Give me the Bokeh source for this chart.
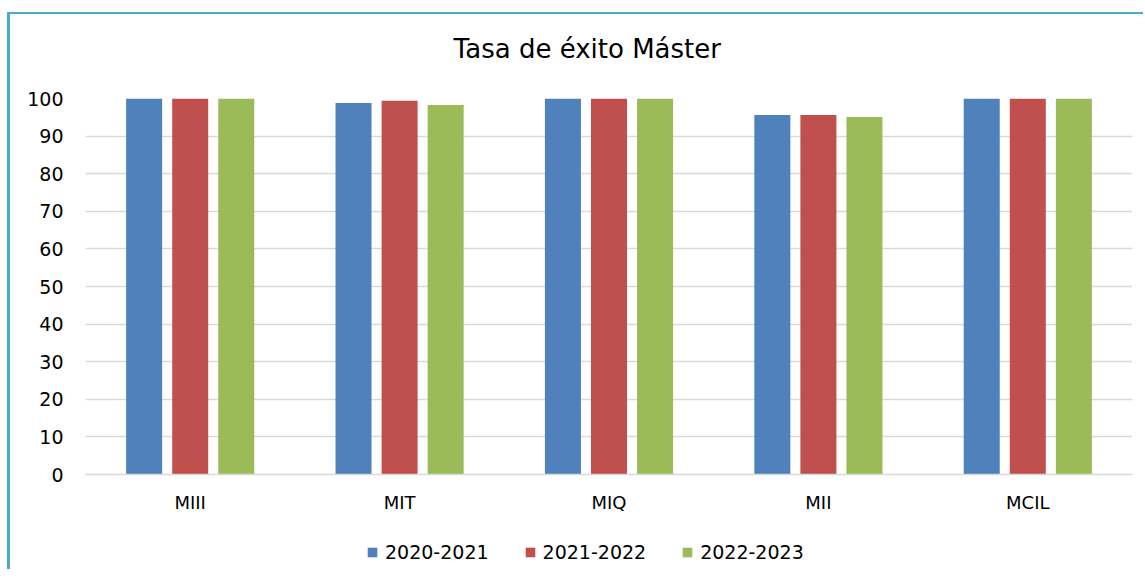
from bokeh.plotting import figure
from bokeh.models import ColumnDataSource, Range1d, FixedTicker, Legend, LegendItem, Label
from bokeh.layouts import column
from bokeh.transform import dodge
from bokeh.embed import file_html
from bokeh.resources import INLINE

title_text = "Tasa de éxito Máster"
categories = ["MIII", "MIT", "MIQ", "MII", "MCIL"]
series_names = ["2020-2021", "2021-2022", "2022-2023"]
s2020 = [100, 98.8, 100, 95.6, 100]
s2021 = [100, 99.4, 100, 95.6, 100]
s2022 = [100, 98.3, 100, 95.1, 100]
y_ticks = [0, 10, 20, 30, 40, 50, 60, 70, 80, 90, 100]

colors = ["#4F81BD", "#C0504D", "#9BBB59"]
FONT = "DejaVu Sans"
W = 1133

src = ColumnDataSource(dict(cat=categories, a=s2020, b=s2021, c=s2022))

# title strip
pt = figure(width=W, height=70, output_backend="svg", toolbar_location=None,
            x_range=Range1d(0, W), y_range=Range1d(0, 70),
            x_axis_location=None, y_axis_location=None,
            min_border_left=0, min_border_right=0, min_border_top=0, min_border_bottom=0)
pt.outline_line_color = None
pt.xgrid.grid_line_color = None
pt.ygrid.grid_line_color = None
pt.add_layout(Label(x=543, y=35.5, text=title_text, text_align="center",
                    text_baseline="middle", text_font=FONT, text_font_size="26px",
                    text_color="#000000"))

# main chart
p = figure(x_range=categories, y_range=Range1d(0, 100), width=W, height=449,
           output_backend="svg", toolbar_location=None,
           min_border_left=75, min_border_right=11, min_border_top=14, min_border_bottom=59)
p.outline_line_color = None
p.background_fill_color = "white"
p.border_fill_color = "white"

offsets = [-0.22, 0.0, 0.22]
for col, off, c in zip(["a", "b", "c"], offsets, colors):
    p.vbar(x=dodge("cat", off, range=p.x_range), top=col, width=0.172, source=src,
           fill_color=c, line_color=None)

p.xgrid.grid_line_color = None
p.ygrid.grid_line_color = "#D9D9D9"
p.ygrid.grid_line_width = 1.5
p.yaxis.ticker = FixedTicker(ticks=y_ticks)

p.yaxis.axis_line_color = None
p.yaxis.major_tick_line_color = None
p.yaxis.minor_tick_line_color = None
p.yaxis.major_tick_out = 0
p.yaxis.major_label_standoff = 22
p.yaxis.major_label_text_font = FONT
p.yaxis.major_label_text_font_size = "19px"
p.yaxis.major_label_text_color = "#000000"

p.xaxis.axis_line_color = "#D9D9D9"
p.xaxis.axis_line_width = 1.5
p.xaxis.major_tick_line_color = None
p.xaxis.minor_tick_line_color = None
p.xaxis.major_tick_out = 0
p.xaxis.major_label_standoff = 17
p.xaxis.major_label_text_font = FONT
p.xaxis.major_label_text_font_size = "18px"
p.xaxis.major_label_text_color = "#000000"

# legend strip below the chart (bars kept out of its view; only the legend shows)
pl = figure(x_range=categories, y_range=Range1d(101, 102), width=W, height=36,
            output_backend="svg", toolbar_location=None,
            x_axis_location=None, y_axis_location=None,
            min_border_left=0, min_border_right=0, min_border_top=0, min_border_bottom=0)
pl.outline_line_color = None
pl.xgrid.grid_line_color = None
pl.ygrid.grid_line_color = None
leg_renderers = [pl.vbar(x="cat", top=col, width=0.1, source=src, fill_color=c, line_color=None)
                 for col, c in zip(["a", "b", "c"], colors)]
items = [LegendItem(label=n, renderers=[r]) for n, r in zip(series_names, leg_renderers)]
legend = Legend(items=items, orientation="horizontal", location=(281, 6),
                glyph_width=12, glyph_height=12, label_standoff=7, spacing=35,
                label_text_font=FONT, label_text_font_size="19px",
                label_text_color="#000000", border_line_color=None,
                background_fill_alpha=0, margin=0, padding=6)
pl.add_layout(legend)

layout = column(pt, p, pl, margin=(12, 0, 0, 7), spacing=0,
                styles={"border-left": "3px solid #4BACC6",
                        "border-top": "2px solid #4BACC6"})

open("out.html", "w").write(file_html(layout, INLINE))
